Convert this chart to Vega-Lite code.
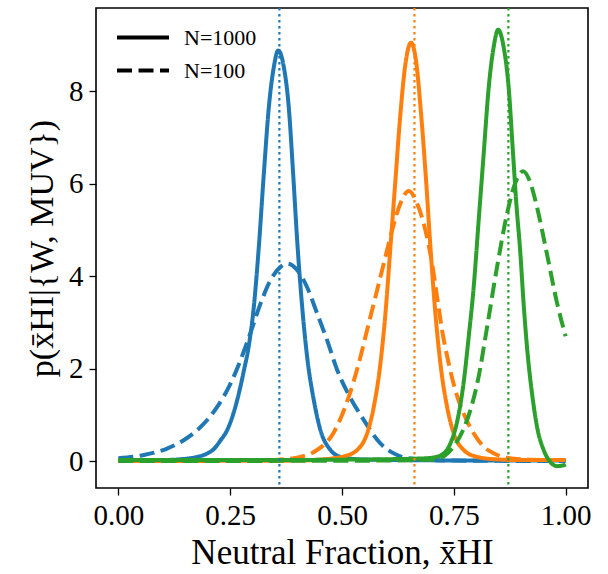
{
  "$schema": "https://vega.github.io/schema/vega-lite/v6.json",
  "width": 492,
  "height": 480,
  "autosize": {"type": "none"},
  "padding": {"left": 96, "top": 8, "right": 20, "bottom": 86},
  "background": "white",
  "config": {
    "view": {"stroke": "black", "strokeWidth": 1.6},
    "font": "Liberation Serif",
    "axis": {
      "labelFont": "Liberation Serif",
      "titleFont": "Liberation Serif",
      "labelColor": "black",
      "titleColor": "black",
      "labelFontSize": 29,
      "titleFontSize": 34,
      "titleFontWeight": "normal",
      "tickColor": "black",
      "tickSize": 7,
      "tickWidth": 1.3,
      "domain": false,
      "grid": false
    },
    "legend": {
      "labelFont": "Liberation Serif",
      "labelFontSize": 22,
      "labelColor": "black"
    }
  },
  "datasets": {
    "curves": [
      {"t": 0.36, "N": "N=1000", "x": 0.0, "y": 0.01},
      {"t": 0.36, "N": "N=1000", "x": 0.05, "y": 0.01},
      {"t": 0.36, "N": "N=1000", "x": 0.1, "y": 0.02},
      {"t": 0.36, "N": "N=1000", "x": 0.14, "y": 0.04},
      {"t": 0.36, "N": "N=1000", "x": 0.176, "y": 0.09},
      {"t": 0.36, "N": "N=1000", "x": 0.2, "y": 0.17},
      {"t": 0.36, "N": "N=1000", "x": 0.2134, "y": 0.26},
      {"t": 0.36, "N": "N=1000", "x": 0.2286, "y": 0.45},
      {"t": 0.36, "N": "N=1000", "x": 0.2433, "y": 0.67},
      {"t": 0.36, "N": "N=1000", "x": 0.2657, "y": 1.32},
      {"t": 0.36, "N": "N=1000", "x": 0.2805, "y": 1.95},
      {"t": 0.36, "N": "N=1000", "x": 0.2917, "y": 2.5},
      {"t": 0.36, "N": "N=1000", "x": 0.3028, "y": 3.33},
      {"t": 0.36, "N": "N=1000", "x": 0.314, "y": 4.63},
      {"t": 0.36, "N": "N=1000", "x": 0.3252, "y": 6.21},
      {"t": 0.36, "N": "N=1000", "x": 0.3364, "y": 7.65},
      {"t": 0.36, "N": "N=1000", "x": 0.3475, "y": 8.52},
      {"t": 0.36, "N": "N=1000", "x": 0.3573, "y": 8.88},
      {"t": 0.36, "N": "N=1000", "x": 0.37, "y": 8.52},
      {"t": 0.36, "N": "N=1000", "x": 0.381, "y": 7.65},
      {"t": 0.36, "N": "N=1000", "x": 0.3908, "y": 6.21},
      {"t": 0.36, "N": "N=1000", "x": 0.3998, "y": 4.77},
      {"t": 0.36, "N": "N=1000", "x": 0.411, "y": 3.33},
      {"t": 0.36, "N": "N=1000", "x": 0.4221, "y": 2.25},
      {"t": 0.36, "N": "N=1000", "x": 0.4369, "y": 1.32},
      {"t": 0.36, "N": "N=1000", "x": 0.4518, "y": 0.67},
      {"t": 0.36, "N": "N=1000", "x": 0.4742, "y": 0.24},
      {"t": 0.36, "N": "N=1000", "x": 0.4966, "y": 0.09},
      {"t": 0.36, "N": "N=1000", "x": 0.52, "y": 0.05},
      {"t": 0.36, "N": "N=1000", "x": 0.56, "y": 0.03},
      {"t": 0.36, "N": "N=1000", "x": 0.65, "y": 0.02},
      {"t": 0.36, "N": "N=1000", "x": 0.8, "y": 0.01},
      {"t": 0.36, "N": "N=1000", "x": 1.0, "y": 0.01},

      {"t": 0.36, "N": "N=100", "x": 0.0, "y": 0.06},
      {"t": 0.36, "N": "N=100", "x": 0.057, "y": 0.13},
      {"t": 0.36, "N": "N=100", "x": 0.109, "y": 0.27},
      {"t": 0.36, "N": "N=100", "x": 0.146, "y": 0.45},
      {"t": 0.36, "N": "N=100", "x": 0.184, "y": 0.74},
      {"t": 0.36, "N": "N=100", "x": 0.221, "y": 1.17},
      {"t": 0.36, "N": "N=100", "x": 0.251, "y": 1.68},
      {"t": 0.36, "N": "N=100", "x": 0.273, "y": 2.18},
      {"t": 0.36, "N": "N=100", "x": 0.295, "y": 2.76},
      {"t": 0.36, "N": "N=100", "x": 0.318, "y": 3.41},
      {"t": 0.36, "N": "N=100", "x": 0.34, "y": 3.91},
      {"t": 0.36, "N": "N=100", "x": 0.3625, "y": 4.2},
      {"t": 0.36, "N": "N=100", "x": 0.3774, "y": 4.27},
      {"t": 0.36, "N": "N=100", "x": 0.4, "y": 4.13},
      {"t": 0.36, "N": "N=100", "x": 0.422, "y": 3.76},
      {"t": 0.36, "N": "N=100", "x": 0.4445, "y": 3.19},
      {"t": 0.36, "N": "N=100", "x": 0.4668, "y": 2.61},
      {"t": 0.36, "N": "N=100", "x": 0.4892, "y": 1.97},
      {"t": 0.36, "N": "N=100", "x": 0.5115, "y": 1.5},
      {"t": 0.36, "N": "N=100", "x": 0.5486, "y": 0.89},
      {"t": 0.36, "N": "N=100", "x": 0.5859, "y": 0.38},
      {"t": 0.36, "N": "N=100", "x": 0.6232, "y": 0.13},
      {"t": 0.36, "N": "N=100", "x": 0.66, "y": 0.05},
      {"t": 0.36, "N": "N=100", "x": 0.75, "y": 0.01},
      {"t": 0.36, "N": "N=100", "x": 1.0, "y": 0.0},

      {"t": 0.662, "N": "N=1000", "x": 0.0, "y": 0.0},
      {"t": 0.662, "N": "N=1000", "x": 0.4, "y": 0.01},
      {"t": 0.662, "N": "N=1000", "x": 0.45, "y": 0.03},
      {"t": 0.662, "N": "N=1000", "x": 0.48, "y": 0.06},
      {"t": 0.662, "N": "N=1000", "x": 0.5039, "y": 0.1},
      {"t": 0.662, "N": "N=1000", "x": 0.5339, "y": 0.24},
      {"t": 0.662, "N": "N=1000", "x": 0.5562, "y": 0.6},
      {"t": 0.662, "N": "N=1000", "x": 0.571, "y": 1.17},
      {"t": 0.662, "N": "N=1000", "x": 0.5859, "y": 2.11},
      {"t": 0.662, "N": "N=1000", "x": 0.5971, "y": 3.19},
      {"t": 0.662, "N": "N=1000", "x": 0.6083, "y": 4.63},
      {"t": 0.662, "N": "N=1000", "x": 0.6194, "y": 6.07},
      {"t": 0.662, "N": "N=1000", "x": 0.6306, "y": 7.51},
      {"t": 0.662, "N": "N=1000", "x": 0.6418, "y": 8.59},
      {"t": 0.662, "N": "N=1000", "x": 0.6545, "y": 9.05},
      {"t": 0.662, "N": "N=1000", "x": 0.6664, "y": 8.59},
      {"t": 0.662, "N": "N=1000", "x": 0.6768, "y": 7.51},
      {"t": 0.662, "N": "N=1000", "x": 0.688, "y": 6.07},
      {"t": 0.662, "N": "N=1000", "x": 0.6977, "y": 4.63},
      {"t": 0.662, "N": "N=1000", "x": 0.7088, "y": 3.19},
      {"t": 0.662, "N": "N=1000", "x": 0.72, "y": 2.11},
      {"t": 0.662, "N": "N=1000", "x": 0.735, "y": 1.17},
      {"t": 0.662, "N": "N=1000", "x": 0.7497, "y": 0.6},
      {"t": 0.662, "N": "N=1000", "x": 0.772, "y": 0.24},
      {"t": 0.662, "N": "N=1000", "x": 0.802, "y": 0.09},
      {"t": 0.662, "N": "N=1000", "x": 0.84, "y": 0.04},
      {"t": 0.662, "N": "N=1000", "x": 0.9, "y": 0.02},
      {"t": 0.662, "N": "N=1000", "x": 1.0, "y": 0.02},

      {"t": 0.662, "N": "N=100", "x": 0.0, "y": 0.0},
      {"t": 0.662, "N": "N=100", "x": 0.3, "y": 0.01},
      {"t": 0.662, "N": "N=100", "x": 0.36, "y": 0.03},
      {"t": 0.662, "N": "N=100", "x": 0.4071, "y": 0.09},
      {"t": 0.662, "N": "N=100", "x": 0.4445, "y": 0.24},
      {"t": 0.662, "N": "N=100", "x": 0.4816, "y": 0.62},
      {"t": 0.662, "N": "N=100", "x": 0.5151, "y": 1.39},
      {"t": 0.662, "N": "N=100", "x": 0.5374, "y": 2.11},
      {"t": 0.662, "N": "N=100", "x": 0.556, "y": 2.83},
      {"t": 0.662, "N": "N=100", "x": 0.5747, "y": 3.55},
      {"t": 0.662, "N": "N=100", "x": 0.5933, "y": 4.27},
      {"t": 0.662, "N": "N=100", "x": 0.612, "y": 4.99},
      {"t": 0.662, "N": "N=100", "x": 0.6306, "y": 5.57},
      {"t": 0.662, "N": "N=100", "x": 0.6492, "y": 5.84},
      {"t": 0.662, "N": "N=100", "x": 0.668, "y": 5.57},
      {"t": 0.662, "N": "N=100", "x": 0.6865, "y": 4.99},
      {"t": 0.662, "N": "N=100", "x": 0.7014, "y": 4.27},
      {"t": 0.662, "N": "N=100", "x": 0.7126, "y": 3.55},
      {"t": 0.662, "N": "N=100", "x": 0.7238, "y": 2.83},
      {"t": 0.662, "N": "N=100", "x": 0.7386, "y": 2.11},
      {"t": 0.662, "N": "N=100", "x": 0.7535, "y": 1.53},
      {"t": 0.662, "N": "N=100", "x": 0.772, "y": 1.03},
      {"t": 0.662, "N": "N=100", "x": 0.7944, "y": 0.6},
      {"t": 0.662, "N": "N=100", "x": 0.8168, "y": 0.31},
      {"t": 0.662, "N": "N=100", "x": 0.839, "y": 0.17},
      {"t": 0.662, "N": "N=100", "x": 0.869, "y": 0.07},
      {"t": 0.662, "N": "N=100", "x": 0.92, "y": 0.03},
      {"t": 0.662, "N": "N=100", "x": 1.0, "y": 0.02},

      {"t": 0.872, "N": "N=1000", "x": 0.0, "y": 0.02},
      {"t": 0.872, "N": "N=1000", "x": 0.3, "y": 0.02},
      {"t": 0.872, "N": "N=1000", "x": 0.5, "y": 0.03},
      {"t": 0.872, "N": "N=1000", "x": 0.6, "y": 0.04},
      {"t": 0.872, "N": "N=1000", "x": 0.66, "y": 0.05},
      {"t": 0.872, "N": "N=1000", "x": 0.7, "y": 0.07},
      {"t": 0.872, "N": "N=1000", "x": 0.72, "y": 0.12},
      {"t": 0.872, "N": "N=1000", "x": 0.7423, "y": 0.38},
      {"t": 0.872, "N": "N=1000", "x": 0.7573, "y": 0.85},
      {"t": 0.872, "N": "N=1000", "x": 0.772, "y": 1.7},
      {"t": 0.872, "N": "N=1000", "x": 0.7832, "y": 2.68},
      {"t": 0.872, "N": "N=1000", "x": 0.7944, "y": 3.76},
      {"t": 0.872, "N": "N=1000", "x": 0.8056, "y": 5.21},
      {"t": 0.872, "N": "N=1000", "x": 0.8168, "y": 6.65},
      {"t": 0.872, "N": "N=1000", "x": 0.828, "y": 8.08},
      {"t": 0.872, "N": "N=1000", "x": 0.839, "y": 8.95},
      {"t": 0.872, "N": "N=1000", "x": 0.849, "y": 9.33},
      {"t": 0.872, "N": "N=1000", "x": 0.8615, "y": 8.95},
      {"t": 0.872, "N": "N=1000", "x": 0.8726, "y": 8.08},
      {"t": 0.872, "N": "N=1000", "x": 0.8824, "y": 6.65},
      {"t": 0.872, "N": "N=1000", "x": 0.8898, "y": 5.57},
      {"t": 0.872, "N": "N=1000", "x": 0.8988, "y": 4.49},
      {"t": 0.872, "N": "N=1000", "x": 0.9061, "y": 3.4},
      {"t": 0.872, "N": "N=1000", "x": 0.915, "y": 2.32},
      {"t": 0.872, "N": "N=1000", "x": 0.9249, "y": 1.46},
      {"t": 0.872, "N": "N=1000", "x": 0.9361, "y": 0.74},
      {"t": 0.872, "N": "N=1000", "x": 0.9508, "y": 0.24},
      {"t": 0.872, "N": "N=1000", "x": 0.9658, "y": -0.02},
      {"t": 0.872, "N": "N=1000", "x": 0.9807, "y": -0.11},
      {"t": 0.872, "N": "N=1000", "x": 0.9955, "y": -0.09},
      {"t": 0.872, "N": "N=1000", "x": 1.0, "y": -0.07},

      {"t": 0.872, "N": "N=100", "x": 0.0, "y": 0.0},
      {"t": 0.872, "N": "N=100", "x": 0.6, "y": 0.01},
      {"t": 0.872, "N": "N=100", "x": 0.7, "y": 0.03},
      {"t": 0.872, "N": "N=100", "x": 0.73, "y": 0.12},
      {"t": 0.872, "N": "N=100", "x": 0.75, "y": 0.32},
      {"t": 0.872, "N": "N=100", "x": 0.772, "y": 0.7},
      {"t": 0.872, "N": "N=100", "x": 0.79, "y": 1.2},
      {"t": 0.872, "N": "N=100", "x": 0.805, "y": 1.8},
      {"t": 0.872, "N": "N=100", "x": 0.8244, "y": 2.9},
      {"t": 0.872, "N": "N=100", "x": 0.8467, "y": 4.2},
      {"t": 0.872, "N": "N=100", "x": 0.869, "y": 5.35},
      {"t": 0.872, "N": "N=100", "x": 0.885, "y": 5.95},
      {"t": 0.872, "N": "N=100", "x": 0.905, "y": 6.27},
      {"t": 0.872, "N": "N=100", "x": 0.92, "y": 6.05},
      {"t": 0.872, "N": "N=100", "x": 0.936, "y": 5.49},
      {"t": 0.872, "N": "N=100", "x": 0.958, "y": 4.49},
      {"t": 0.872, "N": "N=100", "x": 0.981, "y": 3.41},
      {"t": 0.872, "N": "N=100", "x": 1.0, "y": 2.7}
    ],
    "truths": [
      {"t": 0.36},
      {"t": 0.662},
      {"t": 0.872}
    ]
  },
  "layer": [
    {
      "data": {"name": "curves"},
      "mark": {"type": "line", "strokeWidth": 4, "interpolate": "monotone", "clip": true},
      "encoding": {
        "x": {
          "field": "x",
          "type": "quantitative",
          "scale": {"domain": [-0.05, 1.05], "nice": false, "zero": false},
          "axis": {
            "values": [0, 0.25, 0.5, 0.75, 1],
            "format": ".2f",
            "labelPadding": 6,
            "title": "Neutral Fraction, x̄HI",
            "titleFontSize": 35,
            "titlePadding": 5
          }
        },
        "y": {
          "field": "y",
          "type": "quantitative",
          "scale": {"domain": [-0.583, 9.8], "nice": false, "zero": false},
          "axis": {
            "values": [0, 2, 4, 6, 8],
            "format": "d",
            "labelPadding": 6,
            "title": "p(x̄HI|{W, MUV})",
            "titlePadding": 9
          }
        },
        "color": {
          "field": "t",
          "type": "nominal",
          "scale": {"domain": [0.36, 0.662, 0.872], "range": ["#1f77b4", "#ff7f0e", "#2ca02c"]},
          "legend": null
        },
        "strokeDash": {
          "field": "N",
          "type": "nominal",
          "sort": ["N=1000", "N=100"],
          "scale": {"domain": ["N=1000", "N=100"], "range": [[1, 0], [15, 6.5]]},
          "legend": {
            "title": null,
            "orient": "none",
            "legendX": 19,
            "legendY": 15,
            "padding": 0,
            "symbolType": "stroke",
            "symbolSize": 2700,
            "symbolStrokeWidth": 4,
            "symbolStrokeColor": "black",
            "labelOffset": 13,
            "clipHeight": 29,
            "rowPadding": 4
          }
        }
      }
    },
    {
      "data": {"name": "truths"},
      "mark": {"type": "rule", "strokeWidth": 2.2, "strokeDash": [2.4, 3.6]},
      "encoding": {
        "x": {"field": "t", "type": "quantitative"},
        "color": {"field": "t", "type": "nominal", "legend": null}
      }
    }
  ]
}
